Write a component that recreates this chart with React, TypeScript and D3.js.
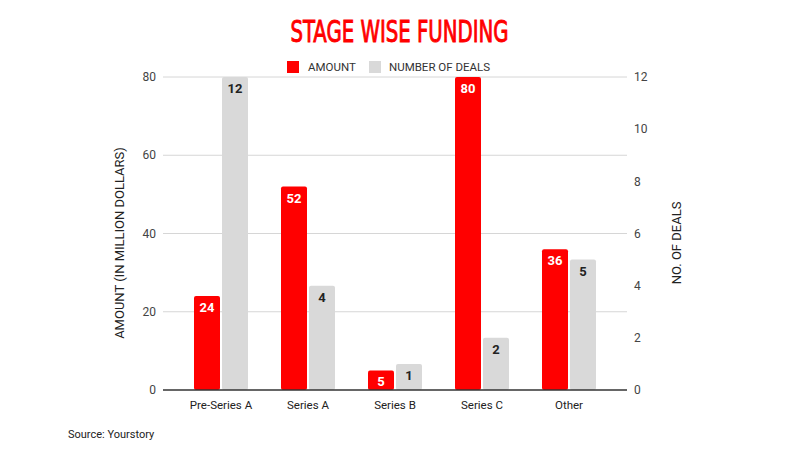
import React from 'react'
import * as d3 from 'd3';

const STAGES = ['Pre-Series A', 'Series A', 'Series B', 'Series C', 'Other'];
const AMOUNT = [24, 52, 5, 80, 36];
const DEALS = [12, 4, 1, 2, 5];
const LEFT_TICKS = [0, 20, 40, 60, 80];
const RIGHT_TICKS = [0, 2, 4, 6, 8, 10, 12];

const W = 800;
const H = 450;
const RED = '#ff0000';
const GREY = '#d9d9d9';
const FONT = 'Roboto, "Noto Sans", sans-serif';

const App = () => {
    const x = d3.scaleBand<string>()
        .domain(STAGES)
        .range([177.5, 612.5])
        .paddingInner(0)
        .paddingOuter(0);
    const yLeft = d3.scaleLinear().domain([0, 80]).range([390, 77]);
    const yRight = d3.scaleLinear().domain([0, 12]).range([390, 77]);

    const barW = 26;
    const gap = 2;

    return (
        <div style={{ margin: -8 }}>
            <svg width={W} height={H} style={{ display: 'block', background: '#fff' }}>
                {/* title */}
                <text x={399.5} y={42} textAnchor="middle" fill={RED} stroke={RED} strokeWidth={0.9}
                      fontFamily='"DejaVu Sans Condensed", sans-serif'
                      fontWeight={400} fontSize={30} textLength={218} lengthAdjust="spacingAndGlyphs">
                    STAGE WISE FUNDING
                </text>

                {/* legend */}
                <g fontFamily={FONT} fontSize={11.5} fill="#333">
                    <rect x={287} y={61} width={12} height={12} fill={RED} />
                    <text x={308} y={71}>AMOUNT</text>
                    <rect x={369} y={61} width={12} height={12} fill={GREY} />
                    <text x={389} y={71}>NUMBER OF DEALS</text>
                </g>

                {/* grid */}
                {LEFT_TICKS.filter(t => t > 0).map(t => (
                    <line key={t} x1={163} x2={627} y1={yLeft(t)} y2={yLeft(t)} stroke="#d6d6d6" strokeWidth={1} />
                ))}

                {/* left ticks */}
                <g fontFamily={FONT} fontSize={12} fill="#444" textAnchor="end">
                    {LEFT_TICKS.map(t => (
                        <text key={t} x={156} y={yLeft(t)} dy="0.35em">{t}</text>
                    ))}
                </g>
                {/* right ticks */}
                <g fontFamily={FONT} fontSize={12} fill="#444" textAnchor="start">
                    {RIGHT_TICKS.map(t => (
                        <text key={t} x={634} y={yRight(t)} dy="0.35em">{t}</text>
                    ))}
                </g>

                {/* axis titles */}
                <text transform={`translate(124,243) rotate(-90)`} textAnchor="middle"
                      fontFamily={FONT} fontSize={13} fill="#222">
                    AMOUNT (IN MILLION DOLLARS)
                </text>
                <text transform={`translate(681,243) rotate(-90)`} textAnchor="middle"
                      fontFamily={FONT} fontSize={13} fill="#222">
                    NO. OF DEALS
                </text>

                {/* bars */}
                {STAGES.map((s, i) => {
                    const cx = (x(s) ?? 0) + x.bandwidth() / 2;
                    const ax = cx - gap / 2 - barW;
                    const dx = cx + gap / 2;
                    const aTop = yLeft(AMOUNT[i]);
                    const dTop = yRight(DEALS[i]);
                    return (
                        <g key={s}>
                            <rect x={ax} y={aTop} width={barW} height={yLeft(0) - aTop} fill={RED} rx={2} />
                            <rect x={dx} y={dTop} width={barW} height={yRight(0) - dTop} fill={GREY} rx={2} />
                            <text x={ax + barW / 2} y={aTop + 16} textAnchor="middle" fontFamily={FONT}
                                  fontWeight={700} fontSize={13} fill="#fff">{AMOUNT[i]}</text>
                            <text x={dx + barW / 2} y={dTop + 16} textAnchor="middle" fontFamily={FONT}
                                  fontWeight={700} fontSize={13} fill="#222">{DEALS[i]}</text>
                        </g>
                    );
                })}

                {/* baseline */}
                <line x1={163} x2={627} y1={yLeft(0)} y2={yLeft(0)} stroke="#333" strokeWidth={1.5} />

                {/* x labels */}
                <g fontFamily={FONT} fontSize={11.5} fill="#222" textAnchor="middle">
                    {STAGES.map(s => (
                        <text key={s} x={(x(s) ?? 0) + x.bandwidth() / 2} y={409}>{s}</text>
                    ))}
                </g>

                {/* source */}
                <text x={68} y={438} fontFamily={FONT} fontSize={11} fill="#222">Source: Yourstory</text>
            </svg>
        </div>
    );
}

export default App;
